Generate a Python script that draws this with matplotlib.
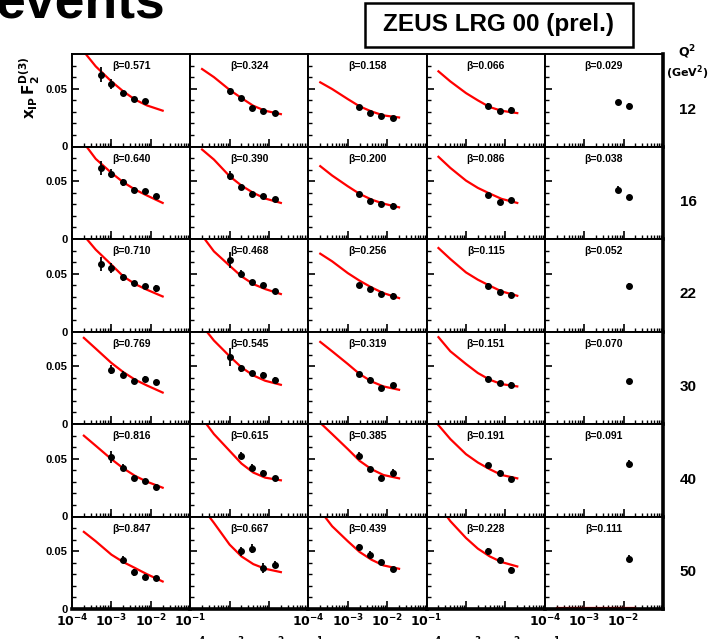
import matplotlib
matplotlib.use("Agg")
import matplotlib.pyplot as plt
from matplotlib.patches import Rectangle
from matplotlib.ticker import FixedLocator, NullFormatter, LogLocator

# ---- DATA ----
Q2_VALUES = ["12", "16", "22", "30", "40", "50"]

BETA_LABELS = [
    ["0.571", "0.324", "0.158", "0.066", "0.029"],
    ["0.640", "0.390", "0.200", "0.086", "0.038"],
    ["0.710", "0.468", "0.256", "0.115", "0.052"],
    ["0.769", "0.545", "0.319", "0.151", "0.070"],
    ["0.816", "0.615", "0.385", "0.191", "0.091"],
    ["0.847", "0.667", "0.439", "0.228", "0.111"],
]

# x_pomeron bin centres shared by all panels
XP = [0.00054, 0.00100, 0.00195, 0.0037, 0.0071, 0.0138]

# index of the first x_pomeron bin used in each panel
FIRST_BIN = [
    [0, 1, 2, 3, 4],
    [0, 1, 2, 3, 4],
    [0, 1, 2, 3, 5],
    [1, 1, 2, 3, 5],
    [1, 2, 2, 3, 5],
    [2, 2, 2, 3, 5],
]

F2_VALUES = [
    [[0.0621, 0.0540, 0.0462, 0.0410, 0.0390],
     [0.0477, 0.0419, 0.0332, 0.0303, 0.0289],
     [0.0341, 0.0289, 0.0266, 0.0246],
     [0.0352, 0.0303, 0.0318],
     [0.0381, 0.0352]],
    [[0.0615, 0.0566, 0.0491, 0.0427, 0.0413, 0.0370],
     [0.0549, 0.0448, 0.0393, 0.0370, 0.0347],
     [0.0390, 0.0326, 0.0306, 0.0289],
     [0.0378, 0.0318, 0.0335],
     [0.0427, 0.0361]],
    [[0.0583, 0.0549, 0.0468, 0.0419, 0.0390, 0.0375],
     [0.0620, 0.0500, 0.0427, 0.0399, 0.0347],
     [0.0399, 0.0367, 0.0326, 0.0309],
     [0.0396, 0.0338, 0.0318],
     [0.0396]],
    [[0.0470, 0.0426, 0.0368, 0.0391, 0.0362],
     [0.0580, 0.0484, 0.0441, 0.0426, 0.0383],
     [0.0432, 0.0383, 0.0310, 0.0333],
     [0.0391, 0.0354, 0.0339],
     [0.0368]],
    [[0.0516, 0.0423, 0.0336, 0.0307, 0.0258],
     [0.0525, 0.0423, 0.0380, 0.0330],
     [0.0525, 0.0409, 0.0336, 0.0380],
     [0.0446, 0.0380, 0.0322],
     [0.0458]],
    [[0.0426, 0.0316, 0.0281, 0.0267],
     [0.0499, 0.0522, 0.0354, 0.0383],
     [0.0533, 0.0470, 0.0406, 0.0345],
     [0.0499, 0.0426, 0.0339],
     [0.0435]],
]

F2_ERRORS = [
    [[0.0065, 0.004, 0.002, 0.002, 0.002],
     [0.003, 0.002, 0.002, 0.002, 0.002],
     [0.002, 0.002, 0.002, 0.002],
     [0.002, 0.002, 0.002],
     [0.002, 0.002]],
    [[0.006, 0.004, 0.003, 0.002, 0.002, 0.002],
     [0.004, 0.002, 0.002, 0.002, 0.002],
     [0.002, 0.002, 0.002, 0.002],
     [0.002, 0.002, 0.002],
     [0.003, 0.002]],
    [[0.006, 0.004, 0.003, 0.002, 0.002, 0.003],
     [0.007, 0.003, 0.002, 0.002, 0.002],
     [0.002, 0.002, 0.002, 0.002],
     [0.002, 0.002, 0.002],
     [0.002]],
    [[0.004, 0.003, 0.002, 0.002, 0.002],
     [0.008, 0.003, 0.002, 0.002, 0.002],
     [0.002, 0.002, 0.002, 0.002],
     [0.002, 0.002, 0.002],
     [0.002]],
    [[0.005, 0.003, 0.002, 0.002, 0.002],
     [0.003, 0.003, 0.002, 0.002],
     [0.003, 0.002, 0.002, 0.003],
     [0.002, 0.002, 0.002],
     [0.003]],
    [[0.003, 0.003, 0.002, 0.002],
     [0.004, 0.004, 0.004, 0.003],
     [0.003, 0.003, 0.002, 0.002],
     [0.003, 0.002, 0.002],
     [0.003]],
]

# fit curve, read at these x_pomeron values
FIT_XP = [2.0e-4, 4.0e-4, 1.0e-3, 2.0e-3, 4.0e-3, 8.0e-3, 2.0e-2]
FIT_VALUES = [
    [[0.082, 0.0693, 0.0563, 0.0477, 0.0405, 0.0355, 0.0310],
     [0.067, 0.0600, 0.0490, 0.0419, 0.0352, 0.0309, 0.0280],
     [0.0555, 0.0497, 0.0410, 0.0347, 0.0303, 0.0269, 0.0251],
     [0.065, 0.0563, 0.0462, 0.0399, 0.0341, 0.0309, 0.0289],
     None],
    [[0.083, 0.0693, 0.0572, 0.0491, 0.0427, 0.0376, 0.0312],
     [0.0774, 0.0687, 0.0543, 0.0462, 0.0399, 0.0350, 0.0312],
     [0.063, 0.0549, 0.0456, 0.0390, 0.0341, 0.0306, 0.0274],
     [0.0711, 0.0615, 0.0505, 0.0442, 0.0393, 0.0347, 0.0312],
     None],
    [[0.083, 0.0708, 0.0578, 0.0477, 0.0410, 0.0361, 0.0303],
     [0.083, 0.0693, 0.0569, 0.0477, 0.0410, 0.0367, 0.0324],
     [0.0673, 0.0607, 0.0505, 0.0439, 0.0381, 0.0332, 0.0289],
     [0.0722, 0.0627, 0.0511, 0.0448, 0.0396, 0.0347, 0.0309],
     None],
    [[0.0745, 0.0652, 0.0528, 0.0449, 0.0383, 0.0333, 0.0272],
     [0.085, 0.0722, 0.0586, 0.0490, 0.0420, 0.0374, 0.0339],
     [0.071, 0.0629, 0.0519, 0.0432, 0.0368, 0.0325, 0.0296],
     [0.0751, 0.0629, 0.0519, 0.0441, 0.0383, 0.0345, 0.0325],
     None],
    [[0.0699, 0.0612, 0.0496, 0.0417, 0.0351, 0.0301, 0.0249],
     [0.085, 0.0713, 0.0568, 0.0458, 0.0380, 0.0336, 0.0313],
     [0.081, 0.0713, 0.0583, 0.0481, 0.0409, 0.0359, 0.0330],
     [0.079, 0.0670, 0.0539, 0.0467, 0.0409, 0.0359, 0.0330],
     None],
    [[0.0667, 0.0586, 0.0470, 0.0406, 0.0354, 0.0301, 0.0238],
     [0.088, 0.0745, 0.0557, 0.0455, 0.0388, 0.0348, 0.0319],
     [0.085, 0.0716, 0.0586, 0.0493, 0.0426, 0.0377, 0.0348],
     [0.090, 0.0760, 0.0614, 0.0522, 0.0455, 0.0406, 0.0368],
     [0.0006, 0.0006, 0.0006, 0.0006, 0.0006, 0.0006, 0.0006]],
]

XTICK_LABELS = [r"$\mathbf{10^{-4}}$", r"$\mathbf{10^{-3}}$",
                r"$\mathbf{10^{-2}}$", r"$\mathbf{10^{-1}}$"]

# ---- LAYOUT (pixels) ----
W, H = 714, 639
LEFT, RIGHT, TOP, BOTTOM = 72, 663, 54, 609
NROW, NCOL = 6, 5
FONT = ["Liberation Sans", "DejaVu Sans"]

plt.rcParams.update({
    "font.family": FONT,
    "font.weight": "bold",
    "mathtext.fontset": "dejavusans",
})

fig = plt.figure(figsize=(W / 100, H / 100), dpi=100)
fig.patch.set_facecolor("white")

pw = (RIGHT - LEFT) / NCOL
ph = (BOTTOM - TOP) / NROW

for r in range(NROW):
    for c in range(NCOL):
        x0 = LEFT + c * pw
        y0 = TOP + (r + 1) * ph
        ax = fig.add_axes([x0 / W, 1 - y0 / H, pw / W, ph / H])
        ax.set_xscale("log")
        ax.set_xlim(1e-4, 1e-1)
        ax.set_ylim(0, 0.08)

        fit = FIT_VALUES[r][c]
        if fit is not None:
            ax.plot(FIT_XP, fit, color="#ff0000", lw=1.6, zorder=2)

        i0 = FIRST_BIN[r][c]
        vals = F2_VALUES[r][c]
        errs = F2_ERRORS[r][c]
        xs = XP[i0:i0 + len(vals)]
        ax.errorbar(xs, vals, yerr=errs, fmt="o", color="black", ms=4,
                    elinewidth=1.3, capsize=0, zorder=3)

        ax.text(0.5, 0.87, "\u03b2=" + BETA_LABELS[r][c], transform=ax.transAxes,
                ha="center", va="center", fontsize=7.5, fontweight="bold")

        for side in ["left", "right", "top", "bottom"]:
            ax.spines[side].set_linewidth(1.4)
        if c == NCOL - 1:
            ax.spines["right"].set_linewidth(2.6)
        if r == NROW - 1:
            ax.spines["bottom"].set_linewidth(2.6)

        # y ticks
        ax.yaxis.set_major_locator(FixedLocator([0, 0.05]))
        ax.yaxis.set_minor_locator(FixedLocator([0.01, 0.02, 0.03, 0.04, 0.06, 0.07]))
        ax.tick_params(axis="y", which="major", direction="in", length=5, width=1.2,
                       left=True, right=False, pad=3)
        ax.tick_params(axis="y", which="minor", direction="in", length=3, width=1.0,
                       left=True, right=False)
        if c == 0:
            ax.set_yticklabels(["0", "0.05"], fontsize=8, fontweight="bold")
        else:
            ax.set_yticklabels([])

        # x ticks
        ax.set_xticks([1e-4, 1e-3, 1e-2, 1e-1])
        ax.xaxis.set_minor_locator(LogLocator(base=10, subs=range(2, 10), numticks=20))
        ax.xaxis.set_minor_formatter(NullFormatter())
        ax.tick_params(axis="x", which="major", direction="in", length=6, width=1.2,
                       bottom=True, top=False)
        ax.tick_params(axis="x", which="minor", direction="in", length=3, width=1.0,
                       bottom=True, top=False)
        if r == NROW - 1:
            labels = list(XTICK_LABELS)
            if c == NCOL - 1:
                labels[-1] = ""
            ax.set_xticklabels(labels, fontsize=9)
            # alternate columns drop their labels to a second, lower line
            ax.tick_params(axis="x", which="major", pad=19 if c % 2 else 3)
        else:
            ax.set_xticklabels([])

# ---- TEXT ----
def px(x, y):
    return x / W, 1 - y / H

# slide title, cut off by the top edge
fig.text(*px(-4, 17), "events", ha="left", va="baseline", fontsize=38.5,
         fontweight="bold")

fig.text(*px(30, 88), r"$\mathbf{x_{IP}\,F_2^{D(3)}}$", rotation=90,
         ha="center", va="center", fontsize=11)

fig.add_artist(Rectangle(px(365, 47), 268 / W, 44 / H, transform=fig.transFigure,
                         facecolor="white", edgecolor="black", linewidth=1.8))
fig.text(*px(499, 25), "ZEUS LRG 00 (prel.)", ha="center", va="center",
         fontsize=17.5, fontweight="bold")

fig.text(*px(687, 52), r"$\mathbf{Q^2}$", ha="center", va="center", fontsize=9)
fig.text(*px(687, 73), r"$\mathbf{(GeV^2)}$", ha="center", va="center", fontsize=8)
for r, q in enumerate(Q2_VALUES):
    yc = TOP + (r + 0.6) * ph
    fig.text(*px(688, yc), q, ha="center", va="center", fontsize=11, fontweight="bold")

fig.savefig("out.png", dpi=100)
